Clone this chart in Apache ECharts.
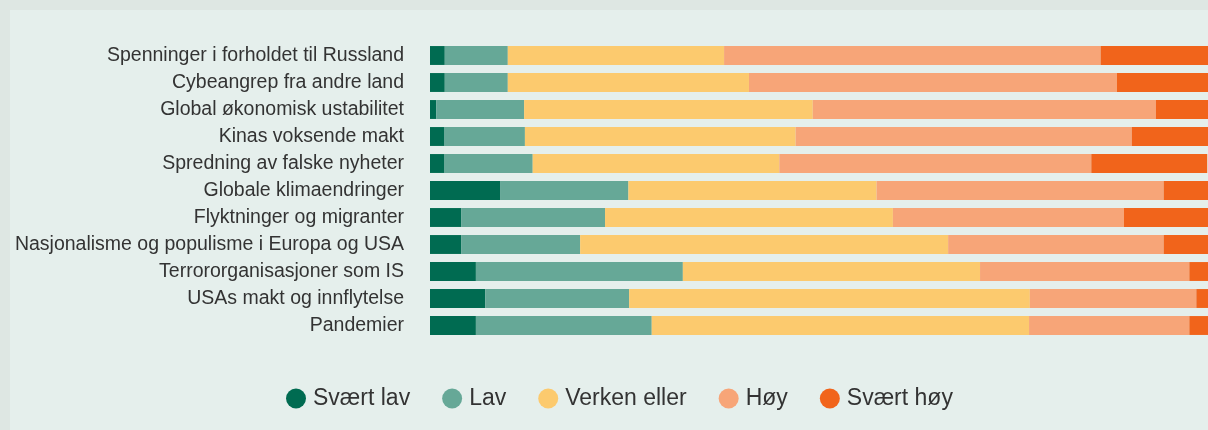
<!DOCTYPE html>
<html>
<head>
<meta charset="utf-8">
<script src="https://cdn.jsdelivr.net/npm/echarts@6/dist/echarts.min.js"></script>
<style>
  html, body { margin: 0; padding: 0; }
  #chart { width: 1208px; height: 430px; }
</style>
</head>
<body>
<div id="chart"></div>
<script>
// kategorier (ovenfra og ned)
const categories = [
  "Spenninger i forholdet til Russland",
  "Cybeangrep fra andre land",
  "Global økonomisk ustabilitet",
  "Kinas voksende makt",
  "Spredning av falske nyheter",
  "Globale klimaendringer",
  "Flyktninger og migranter",
  "Nasjonalisme og populisme i Europa og USA",
  "Terrororganisasjoner som IS",
  "USAs makt og innflytelse",
  "Pandemier"
];

// prosent per kategori
const sværtLav = [1.9, 1.9, 0.8, 1.8, 1.8, 9.0, 4.0, 4.0, 5.9, 7.1, 5.9];
const lav = [8.1, 8.1, 11.3, 10.4, 11.4, 16.5, 18.5, 15.3, 26.6, 18.5, 22.6];
const verkenEller = [27.8, 31.0, 37.1, 34.8, 31.7, 31.9, 37.0, 47.3, 38.2, 51.5, 48.5];
const høy = [48.4, 47.3, 44.1, 43.2, 40.1, 36.9, 29.7, 27.7, 26.9, 21.4, 20.6];
const sværtHøy = [13.8, 11.7, 6.7, 9.8, 14.9, 5.7, 10.8, 5.7, 2.4, 1.5, 2.4];

const seriesNames = ["Svært lav", "Lav", "Verken eller", "Høy", "Svært høy"];
const seriesData = [sværtLav, lav, verkenEller, høy, sværtHøy];
const colors = ["#006b51", "#66a897", "#fcca6e", "#f7a578", "#f1641b"];

const myChart = echarts.init(document.getElementById("chart"));

const option = {
  backgroundColor: "#dee7e3",
  textStyle: { fontFamily: "Liberation Sans, Arial, sans-serif" },
  graphic: [
    {
      type: "rect",
      left: 10,
      top: 10,
      z: -10,
      shape: { width: 1198, height: 420 },
      style: { fill: "#e5efec" }
    }
  ],
  color: colors,
  legend: {
    data: seriesNames,
    left: 281,
    top: 382,
    icon: "circle",
    itemWidth: 24,
    itemHeight: 20,
    itemGap: 32,
    textStyle: { fontSize: 23, color: "#333" }
  },
  grid: {
    left: 430,
    right: 0,
    top: 42,
    bottom: 91
  },
  xAxis: {
    type: "value",
    min: 0,
    max: 100,
    show: false
  },
  yAxis: {
    type: "category",
    data: categories,
    inverse: true,
    axisLine: { show: false },
    axisTick: { show: false },
    axisLabel: {
      margin: 26,
      fontSize: 19.5,
      color: "#333"
    }
  },
  series: seriesNames.map(function(name, i) {
    return {
      name: name,
      type: "bar",
      stack: "total",
      barCategoryGap: "30%",
      data: seriesData[i]
    };
  })
};

myChart.setOption(option);
</script>
</body>
</html>
